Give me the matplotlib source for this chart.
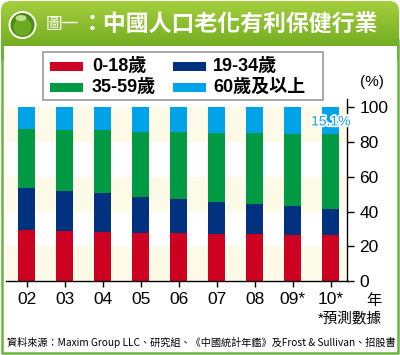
import numpy as np
import matplotlib.pyplot as plt
from matplotlib.patches import Rectangle, Circle, Ellipse, FancyBboxPatch
import matplotlib.patheffects as pe

plt.rcParams['font.family'] = ['Liberation Sans', 'Noto Sans CJK TC', 'DejaVu Sans']

years = ["02", "03", "04", "05", "06", "07", "08", "09*", "10*"]
age_0_18 = [29.4, 28.8, 28.1, 27.7, 27.5, 27.1, 27.0, 26.6, 26.3]
age_19_34 = [24.2, 23.2, 22.6, 20.9, 19.8, 18.4, 17.6, 16.6, 15.4]
age_35_59 = [34.0, 35.2, 36.3, 37.4, 38.6, 39.6, 40.5, 41.8, 43.2]
age_60_up = [12.4, 12.8, 13.0, 14.0, 14.1, 14.9, 14.9, 15.0, 15.1]
series = [age_0_18, age_19_34, age_35_59, age_60_up]
labels = ["0-18歲", "19-34歲", "35-59歲", "60歲及以上"]
colors = ["#CE0021", "#00317F", "#009A44", "#00A2E8"]
yticks = [0, 20, 40, 60, 80, 100]

GREEN = "#6DB33F"
CJK = ['Liberation Sans', 'Noto Sans CJK TC']

fig = plt.figure(figsize=(4.0, 3.55), dpi=100)

# decoration layer in pixel coordinates
bg = fig.add_axes([0, 0, 1, 1], zorder=0)
bg.set_xlim(0, 400)
bg.set_ylim(355, 0)
bg.axis("off")

# title bar with vertical gradient, rounded top corners
bar = FancyBboxPatch((1, 1), 398, 70, boxstyle="round,pad=0,rounding_size=10",
                     fc="none", ec="none")
bg.add_patch(bar)
top, bot = np.array([0.64, 0.81, 0.24]), np.array([0.40, 0.64, 0.10])
grad = np.linspace(0, 1, 60)[:, None, None] * (bot - top) + top
im = bg.imshow(grad, extent=(1, 399, 60, 1), aspect="auto", origin="upper", zorder=1)
im.set_clip_path(bar)
bg.add_patch(Rectangle((3.5, 46), 393, 305, fc="white", ec="none", zorder=2))
bg.plot([2, 2, 398, 398], [40, 352.5, 352.5, 40], color=GREEN, lw=1.8, zorder=3)

# round icon
bg.add_patch(Circle((22.5, 25), 14, fc="white", ec="none", zorder=3))
bg.add_patch(Circle((22.5, 25), 12, fc="#4E8A12", ec="none", zorder=4))
bg.add_patch(Circle((22.5, 27), 9, fc="#6BAA22", ec="none", zorder=4))
bg.add_patch(Ellipse((21, 18), 11, 6, fc="#C9E89A", ec="none", zorder=5, alpha=0.9))

bg.text(46, 25, "圖一", fontsize=12, color="white", va="center", ha="left",
        family=CJK, zorder=6)
bg.text(80.5, 24, "：中國人口老化有利保健行業", fontsize=16.5, color="white",
        fontweight="bold", va="center", ha="left", family=CJK, zorder=6)

# legend box
bg.add_patch(Rectangle((43, 52), 280, 48, fc="white", ec="#9A9A9A", lw=1.2, zorder=3))
leg_x = [(50, 92), (173, 213)]
leg_y = [66, 87.5]
for i, (lab, col) in enumerate(zip(labels, colors)):
    sx, tx = leg_x[i % 2]
    yy = leg_y[i // 2]
    bg.add_patch(Rectangle((sx, yy - 4.5), 33, 9, fc=col, ec="none", zorder=4))
    bg.text(tx, yy, lab, fontsize=13, fontweight="bold", va="center", ha="left",
            family=CJK, zorder=4)

bg.text(372, 82, "(%)", fontsize=11, ha="center", va="center", family=CJK, zorder=4)
bg.text(374, 301, "年", fontsize=11, ha="center", va="center", family=CJK, zorder=4)
bg.text(382, 318, "*預測數據", fontsize=10.5, ha="right", va="center", family=CJK, zorder=4)
bg.text(7, 342, "資料來源：Maxim Group LLC、研究組、《中國統計年鑑》及Frost & Sullivan、招股書",
        fontsize=7.3, ha="left", va="center",
        family=['Liberation Sans Narrow', 'Noto Sans CJK TC'], zorder=4)

# main chart
ax = fig.add_axes([6 / 400, (355 - 281) / 355, 341 / 400, (281 - 98.8) / 355], zorder=2)
ax.patch.set_alpha(0)
for lo in (0, 40, 80):
    ax.axhspan(lo, lo + 20, color="#FDFBE8", lw=0, zorder=0)

x = np.arange(len(years))
bottom = np.zeros(len(years))
for vals, col in zip(series, colors):
    ax.bar(x, vals, width=0.45, bottom=bottom, color=col, lw=0, zorder=2)
    bottom += np.array(vals)

ax.text(x[-1], 100 - age_60_up[-1] / 2 - 0.5, f"{age_60_up[-1]:.1f}%", fontsize=10,
        color="#1E9FE0", ha="center", va="center", zorder=5,
        path_effects=[pe.withStroke(linewidth=2.5, foreground="white")])

ax.set_xlim(-0.54, 8.43)
ax.set_ylim(0, 105)
ax.set_xticks(x)
ax.set_xticklabels(years, fontsize=12.5)
ax.set_yticks(yticks)
ax.set_yticklabels([str(v) for v in yticks], fontsize=12.5)
ax.yaxis.tick_right()
ax.tick_params(axis="y", direction="out", length=5, width=1, pad=4)
ax.tick_params(axis="x", direction="out", length=4, width=1, pad=4)
for s in ("left", "top"):
    ax.spines[s].set_visible(False)
ax.spines["right"].set_linewidth(1)
ax.spines["bottom"].set_linewidth(1)

fig.savefig("out.png", dpi=100)
